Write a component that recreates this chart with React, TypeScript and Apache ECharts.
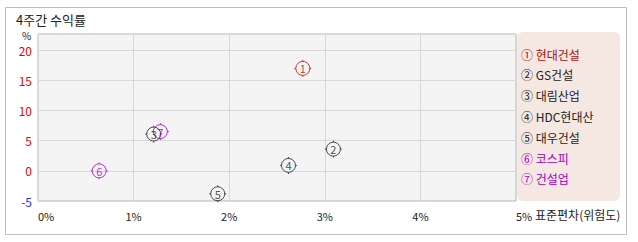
import React, { useEffect, useRef } from "react";
import * as echarts from "echarts";

const names = ["현대건설", "GS건설", "대림산업", "HDC현대산", "대우건설", "코스피", "건설업"];
const circled = ["①", "②", "③", "④", "⑤", "⑥", "⑦"];
const stdDev = [2.77, 3.09, 1.21, 2.62, 1.88, 0.64, 1.28];
const returns4w = [17.0, 3.6, 6.1, 0.9, -3.8, 0.0, 6.5];
const colors = ["#a81010", "#222222", "#222222", "#222222", "#222222", "#a000bc", "#a000bc"];
const xTicks = [0, 1, 2, 3, 4, 5];
const yTicks = [-5, 0, 5, 10, 15, 20];

const FONT = "'Noto Sans CJK KR', 'DejaVu Sans', sans-serif";
const markerPath =
  "path://M-7,0A7,7,0,1,1,7,0A7,7,0,1,1,-7,0ZM0,-8.5L0,-7M0,7L0,8.5M-8.5,0L-7,0M7,0L8.5,0";

export default function App() {
  const ref = useRef<HTMLDivElement>(null);
  useEffect(() => {
    if (!ref.current) return;
    const chart = echarts.init(ref.current, undefined, { renderer: "svg" });
    const legendItems: any[] = names.map((n, i) => ({
      type: "text",
      left: 521,
      top: 48 + i * 20.8,
      style: { text: circled[i] + " " + n, fill: colors[i], font: `12px ${FONT}` },
    }));
    chart.setOption({
      animation: false,
      grid: {
        left: 38,
        right: 122,
        top: 34,
        bottom: 41,
        show: true,
        backgroundColor: "#f4f4f4",
        borderColor: "#b4b4b4",
        borderWidth: 1,
      },
      xAxis: {
        type: "value",
        min: xTicks[0],
        max: xTicks[xTicks.length - 1],
        interval: 1,
        axisLine: { show: false },
        axisTick: { show: false },
        splitLine: { lineStyle: { color: "#d8d8d8" } },
        axisLabel: {
          formatter: "{value}%",
          color: "#222",
          fontSize: 11,
          fontFamily: FONT,
          margin: 9,
          alignMinLabel: "left",
          alignMaxLabel: "left",
        },
      },
      yAxis: {
        type: "value",
        min: yTicks[0],
        max: 22.7,
        interval: 5,
        axisLine: { show: false },
        axisTick: { show: false },
        splitLine: { lineStyle: { color: "#d8d8d8" } },
        axisLabel: {
          showMaxLabel: false,
          margin: 6,
          fontSize: 12,
          fontFamily: FONT,
          formatter: (v: number) => (yTicks.includes(v) ? String(v) : ""),
          color: (v: any) => (Number(v) < 0 ? "#2233dd" : "#ee0000"),
        },
      },
      graphic: [
        {
          type: "rect",
          shape: { x: 5.5, y: 7.5, width: 621, height: 227 },
          style: { fill: "none", stroke: "#bdbdbd", lineWidth: 1 },
          silent: true,
          z: -10,
        },
        {
          type: "text",
          left: 16,
          top: 13,
          style: { text: "4주간 수익률", fill: "#222", font: `13px ${FONT}` },
        },
        {
          type: "text",
          left: 22,
          top: 30,
          style: { text: "%", fill: "#222", font: `10px ${FONT}` },
        },
        {
          type: "text",
          left: 535,
          top: 208,
          style: { text: "표준편차(위험도)", fill: "#222", font: `12px ${FONT}` },
        },
        {
          type: "rect",
          shape: { x: 517, y: 32, width: 103, height: 169, r: 6 },
          style: { fill: "#f5e8e2" },
          z: 0,
        },
        ...legendItems,
      ],
      series: [
        {
          type: "scatter",
          symbol: markerPath,
          symbolSize: 17,
          data: names.map((n, i) => ({
            name: n,
            value: [stdDev[i], returns4w[i]],
            itemStyle: { color: "rgba(0,0,0,0)", borderColor: colors[i], borderWidth: 1 },
            label: { color: colors[i] },
          })),
          label: {
            show: true,
            position: "inside",
            fontSize: 11,
            fontFamily: FONT,
            formatter: (p: any) => String(p.dataIndex + 1),
          },
        },
      ],
    });
    return () => chart.dispose();
  }, []);
  return (
    <div style={{ position: "absolute", left: 0, top: 0, width: 638, height: 242 }}>
      <div ref={ref} style={{ width: 638, height: 242 }} />
    </div>
  );
}
